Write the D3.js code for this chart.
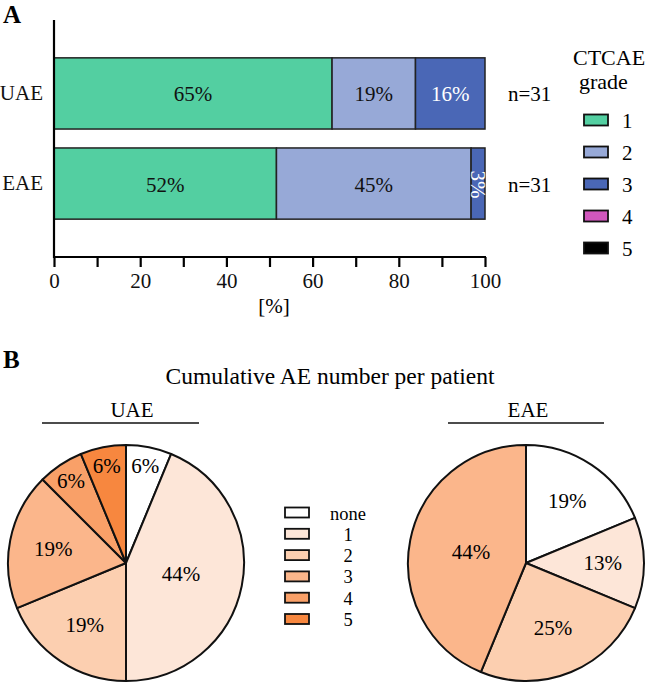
<!DOCTYPE html>
<html>
<head>
<meta charset="utf-8">
<script src="https://cdn.jsdelivr.net/npm/d3@7"></script>
<style>
  body { margin: 0; background: #fff; }
  svg text { font-family: "Liberation Serif", "Times New Roman", Times, "DejaVu Serif", serif; }
</style>
</head>
<body>
<div id="main"></div>
<script>
// panel A: AE grade per group (patient counts, n=31 each)
const groups = ["UAE", "EAE"];
const grades = ["1", "2", "3", "4", "5"];
const uaeCounts = [20, 6, 5, 0, 0];
const eaeCounts = [16, 14, 1, 0, 0];
const groupN = [31, 31];
const xTicks = [0, 20, 40, 60, 80, 100];
const gradeColors = ["#53cfa1", "#97a9d7", "#4a67b6", "#d157bd", "#000000"];

// panel B: cumulative AE number per patient (%)
const aeCategories = ["none", "1", "2", "3", "4", "5"];
const uaePie = [6.25, 43.75, 18.75, 18.75, 6.25, 6.25];
const eaePie = [18.75, 12.5, 25, 43.75, 0, 0];
const pieColors = ["#ffffff", "#fde6d8", "#fccfb0", "#fbb68b", "#f9a068", "#f7873f"];

const serif = "'Liberation Serif', 'Times New Roman', Times, 'DejaVu Serif', serif";
const width = 646;
const height = 685;

const svg = d3.select("#main").append("svg")
    .attr("width", width)
    .attr("height", height)
    .attr("font-family", serif)
    .style("font-family", serif);

// ---------- A ----------
svg.append("text").attr("x", 3).attr("y", 23)
    .attr("font-size", 25).attr("font-weight", "bold").text("A");

const x = d3.scaleLinear().domain([0, 100]).range([54, 485]);
const y = d3.scaleBand().domain(groups).range([20, 257])
    .paddingInner(0.21).paddingOuter(0.42);

const rows = [uaeCounts, eaeCounts].map((counts, i) => {
  let acc = 0;
  return counts.map((c, j) => {
    const p = c / groupN[i] * 100;
    const seg = { group: groups[i], grade: j, x0: acc, x1: acc + p, p: p };
    acc += p;
    return seg;
  }).filter(d => d.p > 0);
});

const segs = rows.flat();

svg.append("g").selectAll("rect")
    .data(segs)
    .enter()
    .append("rect")
    .attr("x", d => x(d.x0))
    .attr("y", d => y(d.group))
    .attr("width", d => x(d.x1) - x(d.x0))
    .attr("height", y.bandwidth())
    .attr("fill", d => gradeColors[d.grade])
    .attr("stroke", "#222")
    .attr("stroke-width", 1.5);

svg.append("g").selectAll("text")
    .data(segs)
    .enter()
    .append("text")
    .attr("font-size", 21)
    .attr("text-anchor", "middle")
    .attr("dominant-baseline", "central")
    .attr("fill", d => d.grade === 2 ? "#fff" : "#111")
    .attr("transform", d => {
      const cx = x((d.x0 + d.x1) / 2);
      const cy = y(d.group) + y.bandwidth() / 2 + 1;
      return d.p < 8 ? `translate(${cx},${cy}) rotate(90)` : `translate(${cx},${cy})`;
    })
    .text(d => Math.round(d.p) + "%");

// axes
const xAxis = svg.append("g")
    .attr("transform", "translate(0,257)")
    .call(d3.axisBottom(x).tickValues(d3.range(0, 101, 10)).tickSize(10)
      .tickFormat(d => xTicks.includes(d) ? d : ""));
xAxis.attr("font-family", serif);
xAxis.select(".domain").attr("stroke-width", 2.2).attr("d", "M54,0H486");
xAxis.selectAll(".tick line").attr("stroke-width", 2.2);
xAxis.selectAll(".tick text")
    .attr("font-size", 21)
    .attr("fill", "#111").attr("dy", "0.85em");

const yAxis = svg.append("g")
    .attr("transform", "translate(54,0)")
    .call(d3.axisLeft(y).tickSize(0).tickPadding(11));
yAxis.attr("font-family", serif);
yAxis.select(".domain").attr("stroke-width", 2.2).attr("d", "M0,20V258");
yAxis.selectAll(".tick text")
    .attr("font-size", 21).attr("fill", "#111");

svg.append("text").attr("x", 274).attr("y", 313)
    .attr("text-anchor", "middle").attr("font-size", 21).text("[%]");

svg.append("g").selectAll("text")
    .data(groups)
    .enter()
    .append("text")
    .attr("x", 508)
    .attr("y", d => y(d) + y.bandwidth() / 2 + 1)
    .attr("dominant-baseline", "central")
    .attr("font-size", 21)
    .text((d, i) => "n=" + groupN[i]);

// grade legend
svg.append("text").attr("x", 573).attr("y", 65).attr("font-size", 22).text("CTCAE");
svg.append("text").attr("x", 579).attr("y", 89).attr("font-size", 22).text("grade");

const gLeg = svg.append("g").selectAll("g")
    .data(grades)
    .enter()
    .append("g")
    .attr("transform", (d, i) => `translate(584,${120 + i * 32})`);
gLeg.append("rect")
    .attr("x", 0).attr("y", -5.5).attr("width", 24).attr("height", 11)
    .attr("fill", (d, i) => gradeColors[i])
    .attr("stroke", "#111").attr("stroke-width", 1.8);
gLeg.append("text")
    .attr("x", 38).attr("y", 1)
    .attr("dominant-baseline", "central")
    .attr("font-size", 21)
    .text(d => d);

// ---------- B ----------
svg.append("text").attr("x", 3).attr("y", 368)
    .attr("font-size", 25).attr("font-weight", "bold").text("B");

svg.append("text").attr("x", 330).attr("y", 384)
    .attr("text-anchor", "middle").attr("font-size", 23.5)
    .text("Cumulative AE number per patient");

const pie = d3.pie().sort(null).value(d => d);
const radius = 118;
const arc = d3.arc().innerRadius(0).outerRadius(radius);

function drawPie(values, cx, cy, title, titleX, lineX0, lineX1) {
  svg.append("text").attr("x", titleX).attr("y", 417)
      .attr("text-anchor", "middle").attr("font-size", 21).text(title);
  svg.append("line")
      .attr("x1", lineX0).attr("x2", lineX1).attr("y1", 423).attr("y2", 423)
      .attr("stroke", "#111").attr("stroke-width", 1.6);

  const g = svg.append("g").attr("transform", `translate(${cx},${cy})`);
  const arcs = pie(values).filter(d => d.value > 0);

  g.selectAll("path")
      .data(arcs)
      .enter()
      .append("path")
      .attr("d", arc)
      .attr("fill", d => pieColors[d.index])
      .attr("stroke", "#111")
      .attr("stroke-width", 2)
      .attr("stroke-linejoin", "round");

  g.selectAll("text")
      .data(arcs)
      .enter()
      .append("text")
      .attr("font-size", 21)
      .attr("text-anchor", "middle")
      .attr("dominant-baseline", "central")
      .attr("transform", d => {
        const a = (d.startAngle + d.endAngle) / 2;
        const half = (d.endAngle - d.startAngle) / 2;
        const r = d.value < 10 ? radius * 0.84 : radius * (2 / 3) * Math.sin(half) / half;
        return `translate(${Math.sin(a) * r},${-Math.cos(a) * r})`;
      })
      .text(d => Math.round(d.value) + "%");
}

drawPie(uaePie, 126, 563, "UAE", 132, 42, 199);
drawPie(eaePie, 526, 563, "EAE", 528, 448, 604);

// pie legend
const pLeg = svg.append("g").selectAll("g")
    .data(aeCategories)
    .enter()
    .append("g")
    .attr("transform", (d, i) => `translate(285,${512.5 + i * 21.3})`);
pLeg.append("rect")
    .attr("x", 0).attr("y", -5).attr("width", 24).attr("height", 10)
    .attr("fill", (d, i) => pieColors[i])
    .attr("stroke", "#111").attr("stroke-width", 1.8);
pLeg.append("text")
    .attr("x", 63).attr("y", 1)
    .attr("text-anchor", "middle")
    .attr("dominant-baseline", "central")
    .attr("font-size", 18.5)
    .text(d => d);
</script>
</body>
</html>
